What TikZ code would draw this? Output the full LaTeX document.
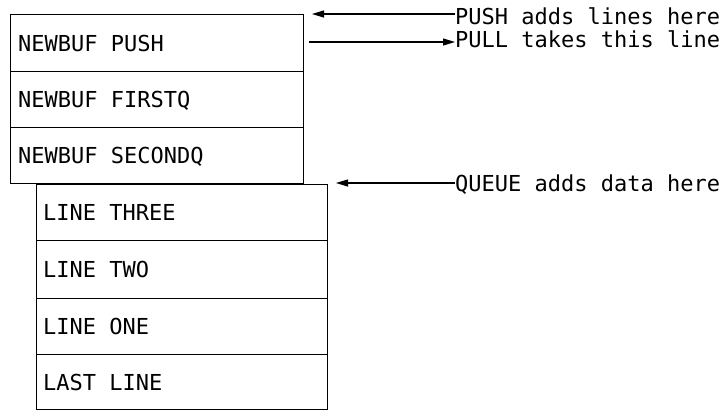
\documentclass[tikz,border=0pt]{standalone}
\usepackage{fontspec}
\newfontfamily\monofont{DejaVu Sans Mono}
\usetikzlibrary{arrows.meta}
\begin{document}
\begin{tikzpicture}[x=1pt,y=-1pt,
  every node/.style={font=\monofont\fontsize{22}{26}\selectfont},
  toprow/.style={draw, line width=1.1pt, anchor=north west, minimum width=293pt, inner sep=0pt},
  botrow/.style={draw, line width=1.1pt, anchor=north west, minimum width=291pt, inner sep=0pt},
  rowtext/.style={anchor=west, inner sep=0pt, text height=16pt, text depth=0pt},
  lbl/.style={anchor=west, inner sep=0pt, text height=16pt, text depth=0pt},
  conn/.style={line width=1.1pt, -{Triangle[length=12pt,width=7pt]}}]
\useasboundingbox (0,0) rectangle (721,410);
% top buffer
\node[toprow, minimum height=57pt] (t1) at (10,14) {};
\node[toprow, minimum height=56pt] (t2) at (10,71) {};
\node[toprow, minimum height=56pt] (t3) at (10,127) {};
\node[rowtext] (t1t) at ([xshift=8pt]t1.west) {NEWBUF PUSH};
\node[rowtext] (t2t) at ([xshift=8pt]t2.west) {NEWBUF FIRSTQ};
\node[rowtext] (t3t) at ([xshift=8pt]t3.west) {NEWBUF SECONDQ};
% queue
\node[botrow, minimum height=56pt] (b1) at (36,184) {};
\node[botrow, minimum height=58pt] (b2) at (36,240) {};
\node[botrow, minimum height=56pt] (b3) at (36,298) {};
\node[botrow, minimum height=55pt] (b4) at (36,354) {};
\node[rowtext] (b1t) at ([xshift=7pt]b1.west) {LINE THREE};
\node[rowtext] (b2t) at ([xshift=7pt]b2.west) {LINE TWO};
\node[rowtext] (b3t) at ([xshift=7pt]b3.west) {LINE ONE};
\node[rowtext] (b4t) at ([xshift=7pt]b4.west) {LAST LINE};
% labels
\node[lbl] (push) at (455,16) {PUSH adds lines here};
\node[lbl] (pull) at (455,39) {PULL takes this line};
\node[lbl] (queue) at (455,183) {QUEUE adds data here};
% connector ends
\coordinate (pushtip) at (312,14);
\coordinate (pullstart) at (309,42);
\coordinate (queuetip) at (336,183);
\draw[conn] (pushtip -| push.west) -- (pushtip);
\draw[conn] (pullstart) -- (pullstart -| pull.west);
\draw[conn] (queue.west) -- (queuetip);
\end{tikzpicture}
\end{document}
